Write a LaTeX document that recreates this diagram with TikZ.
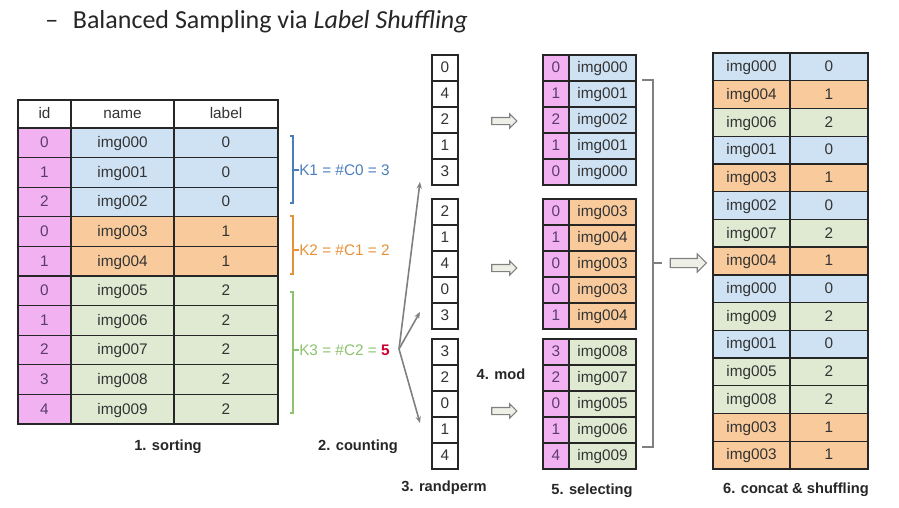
\documentclass[tikz,border=0pt]{standalone}
\usepackage{fontspec}
\setmainfont{Liberation Sans}
\newfontfamily\titlefont{Carlito}
\usetikzlibrary{shapes.arrows,arrows.meta}
\definecolor{cblue}{HTML}{CFE2F3}
\definecolor{corange}{HTML}{F9CB9C}
\definecolor{cgreen}{HTML}{E0EAD3}
\definecolor{cpink}{HTML}{F2B2F2}
\definecolor{kblue}{HTML}{4A7EBB}
\definecolor{korange}{HTML}{E69138}
\definecolor{kgreen}{HTML}{8DC26F}
\definecolor{kred}{HTML}{CC0033}
\definecolor{agray}{HTML}{808080}
\definecolor{afill}{HTML}{EEEFE6}
\definecolor{idtxt}{HTML}{5A3A70}
\begin{document}
\begin{tikzpicture}[x=0.75pt,y=-0.75pt,
  cell/.style={draw=black!85, line width=1pt, inner sep=0pt, outer sep=0pt,
    font=\fontsize{11.5}{13}\selectfont, text=black!80, text height=0.72em, text depth=0pt},
  idcell/.style={cell, fill=cpink, text=idtxt},
  steplabel/.style={font=\fontsize{11}{13}\selectfont\bfseries, text=black!85},
  klabel/.style={font=\fontsize{11.5}{13}\selectfont, inner sep=0pt, anchor=west},
  conn/.style={draw=agray, line width=1.2pt, -{Stealth[length=5pt,width=4pt]}},
  brk/.style={line width=1pt},
  hollowarrow/.style={shape=single arrow, draw=agray, fill=afill, line width=0.8pt,
    inner xsep=0pt, outer sep=0pt}
]
\useasboundingbox (0,0) rectangle (899,507);

% title
\node[anchor=west, inner sep=0pt, font=\titlefont\fontsize{19.5}{22}\selectfont, text=black!85]
  (title) at (45,22) {–\hspace{11pt}Balanced Sampling via \textit{Label Shuffling}};

% 1. sorting table
\node[cell, fill=white, minimum width=53*0.75pt, minimum height=28*0.75pt] (Lh-a) at (44.5,114) {id};
\node[cell, fill=white, minimum width=103*0.75pt, minimum height=28*0.75pt] (Lh-b) at (122.5,114) {name};
\node[cell, fill=white, minimum width=104*0.75pt, minimum height=28*0.75pt] (Lh-c) at (226,114) {label};
\foreach \id/\lab/\col [count=\r from 0] in {0/0/cblue,1/0/cblue,2/0/cblue,0/1/corange,1/1/corange,0/2/cgreen,1/2/cgreen,2/2/cgreen,3/2/cgreen,4/2/cgreen} {
  \pgfmathsetmacro\yy{142.8+29.6*\r}
  \node[idcell, minimum width=53*0.75pt, minimum height=29.6*0.75pt] (L\r-a) at (44.5,\yy) {\id};
  \node[cell, fill=\col, minimum width=103*0.75pt, minimum height=29.6*0.75pt] (L\r-b) at (122.5,\yy) {img00\r};
  \node[cell, fill=\col, minimum width=104*0.75pt, minimum height=29.6*0.75pt] (L\r-c) at (226,\yy) {\lab};
}
\node[steplabel] (s1) at (168,447) {1. sorting};

% 2. counting brackets
\draw[brk, draw=kblue] (290,136) -- (293,136) -- (293,203) -- (290,203);
\draw[brk, draw=kblue] (293,170) -- (299,170);
\node[klabel, text=kblue] (k1) at (299,170) {K1 = \#C0 = 3};
\draw[brk, draw=korange] (290,216) -- (293,216) -- (293,274) -- (290,274);
\draw[brk, draw=korange] (293,250) -- (299,250);
\node[klabel, text=korange] (k2) at (299,250) {K2 = \#C1 = 2};
\draw[brk, draw=kgreen] (290,292) -- (293,292) -- (293,413) -- (290,413);
\draw[brk, draw=kgreen] (293,350) -- (299,350);
\node[klabel, text=kgreen] (k3) at (299,350) {K3 = \#C2 = {\bfseries\color{kred}5}};
\node[steplabel] (s2) at (358,447) {2. counting};

% 3. randperm columns
\foreach \vals/\top [count=\k] in {{0,4,2,1,3}/55,{2,1,4,0,3}/199,{3,2,0,1,4}/339} {
  \foreach \v [count=\j from 0] in \vals {
    \pgfmathsetmacro\yy{\top+13+26*\j}
    \node[cell, fill=white, minimum width=26*0.75pt, minimum height=26*0.75pt] (R\k-\j) at (445,\yy) {\v};
  }
}
\node[steplabel] (s3) at (444,488) {3. randperm};

\coordinate (k3out) at (399,349);
\coordinate (t1) at (420,182);
\coordinate (t2) at (420,312);
\coordinate (t3) at (420,423);
\draw[conn] (k3out) -- (t1);
\draw[conn] (k3out) -- (t2);
\draw[conn] (k3out) -- (t3);

% 4. mod arrows
\foreach \yy [count=\k] in {121,268,411} {
  \node[hollowarrow, minimum height=25*0.75pt, inner ysep=3*0.75pt,
    single arrow head extend=3.5*0.75pt] (m\k) at (502.5,\yy) {};
}
\node[steplabel] (s4) at (501,374) {4. mod};

% 5. selecting
\foreach \items/\top/\col [count=\k] in {{0/000,1/001,2/002,1/001,0/000}/55/cblue,{0/003,1/004,0/003,0/003,1/004}/199/corange,{3/008,2/007,0/005,1/006,4/009}/339/cgreen} {
  \foreach \id/\nm [count=\j from 0] in \items {
    \pgfmathsetmacro\yy{\top+13+26*\j}
    \node[idcell, minimum width=26*0.75pt, minimum height=26*0.75pt] (S\k-\j-a) at (556,\yy) {\id};
    \node[cell, fill=\col, minimum width=67*0.75pt, minimum height=26*0.75pt] (S\k-\j-b) at (602.5,\yy) {img\nm};
  }
}
\node[steplabel] (s5) at (592,491) {5. selecting};

% concat bracket
\coordinate (bt) at (642,80);
\coordinate (bb) at (642,447);
\coordinate (bm) at (653,263);
\draw[draw=agray, line width=1.2pt] (bt) -- (653,80) -- (653,447) -- (bb);
\draw[draw=agray, line width=1.2pt] (bm) -- (662,263);
\node[hollowarrow, minimum height=36*0.75pt, inner ysep=4*0.75pt,
  single arrow head extend=4.5*0.75pt] (bigarrow) at (686,263) {};

% 6. concat & shuffling
\foreach \nm/\lab/\col [count=\r from 0] in {000/0/cblue,004/1/corange,006/2/cgreen,001/0/cblue,003/1/corange,002/0/cblue,007/2/cgreen,004/1/corange,000/0/cblue,009/2/cgreen,001/0/cblue,005/2/cgreen,008/2/cgreen,003/1/corange,003/1/corange} {
  \pgfmathsetmacro\yy{53+27.73*(\r+0.5)}
  \node[cell, fill=\col, minimum width=77*0.75pt, minimum height=27.73*0.75pt] (F\r-a) at (751.5,\yy) {img\nm};
  \node[cell, fill=\col, minimum width=78*0.75pt, minimum height=27.73*0.75pt] (F\r-b) at (829,\yy) {\lab};
}
\node[steplabel] (s6) at (796,490) {6. concat \& shuffling};
\end{tikzpicture}
\end{document}
